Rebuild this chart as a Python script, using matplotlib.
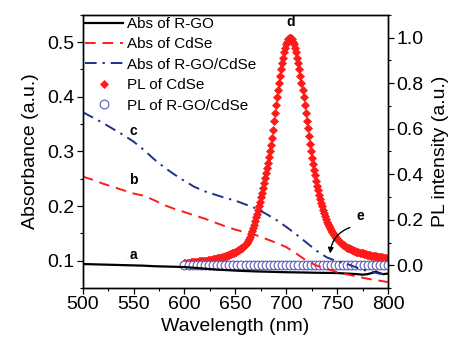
import numpy as np
import matplotlib
matplotlib.use("Agg")
import matplotlib.pyplot as plt
from matplotlib.ticker import MultipleLocator

plt.rcParams['font.family'] = ['Liberation Sans', 'DejaVu Sans']

# ---- data ----
abs_nm = [500, 510, 520, 530, 540, 550, 560, 570, 580, 590, 600, 610, 620, 630, 640,
          650, 660, 670, 680, 690, 700, 710, 720, 730, 740, 750, 760, 770, 775, 780,
          785, 788, 790, 795, 800]
abs_rgo = [0.094, 0.0935, 0.093, 0.0925, 0.092, 0.0915, 0.091, 0.090, 0.0895, 0.089,
           0.0885, 0.087, 0.0855, 0.084, 0.083, 0.082, 0.0812, 0.0805, 0.080, 0.0795,
           0.079, 0.0787, 0.0784, 0.078, 0.0778, 0.0775, 0.0765, 0.0755, 0.0745, 0.0755,
           0.078, 0.080, 0.0785, 0.0755, 0.0765]
abs_cdse = [0.254, 0.248, 0.241, 0.235, 0.229, 0.223, 0.219, 0.211, 0.202, 0.195,
            0.189, 0.183, 0.177, 0.170, 0.163, 0.157, 0.152, 0.147, 0.140, 0.133,
            0.125, 0.113, 0.100, 0.091, 0.085, 0.079, 0.075, 0.071, 0.069, 0.067,
            0.0655, 0.0645, 0.064, 0.0625, 0.061]
abs_rgo_cdse = [0.372, 0.362, 0.352, 0.341, 0.330, 0.318, 0.303, 0.286, 0.271, 0.258,
                0.246, 0.235, 0.227, 0.221, 0.215, 0.210, 0.203, 0.196, 0.186, 0.175,
                0.162, 0.148, 0.133, 0.118, 0.106, 0.099, 0.094, 0.087, 0.084, 0.081,
                0.079, 0.078, 0.077, 0.0755, 0.074]

pl_nm = np.arange(600, 801, 1)
pl_cdse = [
    0.010, 0.010, 0.011, 0.011, 0.012, 0.012, 0.013, 0.013, 0.014, 0.014,
    0.015, 0.015, 0.016, 0.016, 0.017, 0.017, 0.018, 0.018, 0.019, 0.019,
    0.020, 0.021, 0.021, 0.022, 0.023, 0.023, 0.024, 0.025, 0.026, 0.027,
    0.028, 0.029, 0.030, 0.031, 0.032, 0.033, 0.034, 0.035, 0.037, 0.038,
    0.040, 0.041, 0.043, 0.045, 0.047, 0.048, 0.050, 0.052, 0.054, 0.056,
    0.058, 0.060, 0.063, 0.066, 0.069, 0.072, 0.075, 0.078, 0.082, 0.087,
    0.092, 0.099, 0.107, 0.116, 0.126, 0.138, 0.150, 0.164, 0.178, 0.194,
    0.210, 0.227, 0.245, 0.262, 0.280, 0.299, 0.318, 0.339, 0.360, 0.382,
    0.405, 0.427, 0.450, 0.475, 0.500, 0.530, 0.560, 0.596, 0.633, 0.668,
    0.703, 0.737, 0.770, 0.801, 0.832, 0.860, 0.888, 0.912, 0.935, 0.953,
    0.970, 0.982, 0.992, 0.998, 1.000, 0.998, 0.992, 0.982, 0.970, 0.953,
    0.935, 0.912, 0.888, 0.860, 0.832, 0.801, 0.770, 0.737, 0.703, 0.669,
    0.635, 0.601, 0.567, 0.534, 0.502, 0.473, 0.445, 0.420, 0.395, 0.372,
    0.350, 0.330, 0.310, 0.292, 0.275, 0.259, 0.243, 0.229, 0.215, 0.203,
    0.192, 0.182, 0.172, 0.163, 0.155, 0.147, 0.140, 0.133, 0.127, 0.121,
    0.116, 0.111, 0.106, 0.101, 0.097, 0.093, 0.090, 0.087, 0.084, 0.081,
    0.078, 0.076, 0.074, 0.072, 0.070, 0.068, 0.066, 0.064, 0.062, 0.060,
    0.059, 0.057, 0.056, 0.054, 0.053, 0.052, 0.051, 0.049, 0.048, 0.047,
    0.046, 0.045, 0.044, 0.043, 0.042, 0.041, 0.040, 0.039, 0.039, 0.038,
    0.037, 0.036, 0.036, 0.035, 0.035, 0.034, 0.034, 0.033, 0.033, 0.032,
    0.032]

pl2_nm = np.arange(600, 801, 4)
pl_rgo_cdse = [0.003, 0.003, 0.003, 0.003, 0.003, 0.003, 0.003, 0.003, 0.003, 0.003,
               0.003, 0.003, 0.003, 0.003, 0.003, 0.003, 0.003, 0.003, 0.003, 0.003,
               0.003, 0.003, 0.003, 0.003, 0.003, 0.003, 0.003, 0.003, 0.003, 0.003,
               0.003, 0.003, 0.003, 0.003, 0.003, 0.003, 0.003, 0.003, 0.003, 0.003,
               0.003, 0.003, 0.003, 0.003, 0.003, 0.003, 0.003, 0.003, 0.003, 0.003,
               0.003]

legend_labels = ["Abs of R-GO", "Abs of CdSe", "Abs of R-GO/CdSe",
                 "PL of CdSe", "PL of R-GO/CdSe"]

# ---- figure ----
fig = plt.figure(figsize=(4.57, 3.45), dpi=100)
ax = fig.add_axes([0.181, 0.165, 0.668, 0.792])
ax2 = ax.twinx()

RED = '#ff1a1a'
BLUE = '#1f2f8f'
CIRC = '#5a5ab4'

p4, = ax2.plot(pl_nm, pl_cdse, linestyle='none', marker='D', markersize=4,
               color=RED, markeredgewidth=0.5, label=legend_labels[3])
p5, = ax2.plot(pl2_nm, pl_rgo_cdse, linestyle='none', marker='o', markersize=6.3,
               markerfacecolor='white', markeredgecolor=CIRC, markeredgewidth=0.8,
               label=legend_labels[4])

l1, = ax.plot(abs_nm, abs_rgo, color='black', lw=1.6, label=legend_labels[0])
l2, = ax.plot(abs_nm, abs_cdse, color=RED, lw=1.4, dashes=(5.5, 3.5), label=legend_labels[1])
l3, = ax.plot(abs_nm, abs_rgo_cdse, color=BLUE, lw=1.4, dashes=(6, 3, 1.2, 3),
              label=legend_labels[2])

ax.set_zorder(ax2.get_zorder() + 1)
ax.patch.set_visible(False)

ax.set_xlim(500, 800)
ax.set_ylim(0.05, 0.55)
ax2.set_ylim(-0.1, 1.1)

ax.xaxis.set_major_locator(MultipleLocator(50))
ax.xaxis.set_minor_locator(MultipleLocator(25))
ax.yaxis.set_major_locator(MultipleLocator(0.1))
ax.yaxis.set_minor_locator(MultipleLocator(0.05))
ax2.yaxis.set_major_locator(MultipleLocator(0.2))
ax2.yaxis.set_minor_locator(MultipleLocator(0.1))
ax.yaxis.set_major_formatter(plt.FormatStrFormatter('%.1f'))
ax2.yaxis.set_major_formatter(plt.FormatStrFormatter('%.1f'))

for a in (ax, ax2):
    a.tick_params(which='major', direction='out', length=4, width=0.9, labelsize=14, pad=2)
    a.tick_params(which='minor', direction='out', length=2.5, width=0.8)
    for s in a.spines.values():
        s.set_linewidth(1.0)
ax.tick_params(axis='x', top=False, which='both')
ax.tick_params(axis='y', right=False, which='both')

ax.set_xlabel("Wavelength (nm)", fontsize=14, labelpad=3)
ax.set_ylabel("Absorbance (a.u.)", fontsize=14, labelpad=6)
ax2.set_ylabel("PL intensity (a.u.)", fontsize=14, labelpad=6)

leg = ax.legend(handles=[l1, l2, l3, p4, p5], loc='upper left', bbox_to_anchor=(0.003, 0.998),
                frameon=False, fontsize=11, handlelength=2.5, handletextpad=0.25,
                labelspacing=0.42, borderpad=0.1, borderaxespad=0.0)

bold = dict(fontsize=10, fontweight='bold', ha='center', va='center')
ax.text(550, 0.110, 'a', **bold)
ax.text(550, 0.248, 'b', **bold)
ax.text(550, 0.338, 'c', **bold)
ax2.text(704, 1.07, 'd', **bold)
ax2.text(773, 0.215, 'e', **bold)
ax2.annotate('', xy=(743, 0.04), xytext=(765, 0.17),
             arrowprops=dict(arrowstyle='-|>', color='black', lw=1.0,
                             connectionstyle='arc3,rad=0.35', mutation_scale=8))

fig.savefig('out.png', dpi=100)
